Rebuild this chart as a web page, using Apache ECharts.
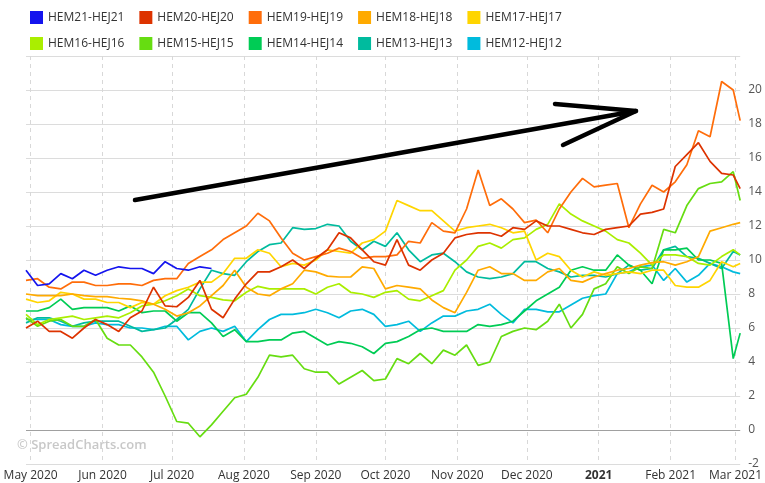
<!DOCTYPE html>
<html>
<head>
<meta charset="utf-8">
<script src="https://cdn.jsdelivr.net/npm/echarts@6/dist/echarts.min.js"></script>
<style>
  html, body { margin: 0; padding: 0; background: #fff; }
  #panel { width: 765px; height: 483px; }
</style>
</head>
<body>
<div id="panel"></div>
<script>
var dates = [
  '2020-04-29','2020-05-04','2020-05-09','2020-05-14','2020-05-19','2020-05-24','2020-05-29',
  '2020-06-03','2020-06-08','2020-06-13','2020-06-18','2020-06-23','2020-06-28',
  '2020-07-03','2020-07-08','2020-07-13','2020-07-18','2020-07-23','2020-07-28',
  '2020-08-02','2020-08-07','2020-08-12','2020-08-17','2020-08-22','2020-08-27',
  '2020-09-01','2020-09-06','2020-09-11','2020-09-16','2020-09-21','2020-09-26',
  '2020-10-01','2020-10-06','2020-10-11','2020-10-16','2020-10-21','2020-10-26','2020-10-31',
  '2020-11-05','2020-11-10','2020-11-15','2020-11-20','2020-11-25','2020-11-30',
  '2020-12-05','2020-12-10','2020-12-15','2020-12-20','2020-12-25','2020-12-30',
  '2021-01-04','2021-01-09','2021-01-14','2021-01-19','2021-01-24','2021-01-29',
  '2021-02-03','2021-02-08','2021-02-13','2021-02-18','2021-02-23','2021-02-28','2021-03-03'
];

var names = ['HEM21-HEJ21','HEM20-HEJ20','HEM19-HEJ19','HEM18-HEJ18','HEM17-HEJ17',
             'HEM16-HEJ16','HEM15-HEJ15','HEM14-HEJ14','HEM13-HEJ13','HEM12-HEJ12'];
var colors = ['#1414ee','#dd3300','#ff6d0a','#ffaa00','#ffd500',
              '#aaee00','#66dd11','#00cc55','#00bb9e','#00bbdd'];

var hem21 = [9.4, 8.5, 8.6, 9.2, 8.9, 9.4, 9.1, 9.4, 9.6, 9.5, 9.5, 9.2, 9.9, 9.5, 9.4, 9.6, 9.5];
var hem20 = [6.0, 6.4, 5.8, 5.8, 5.4, 6.0, 6.5, 6.2, 5.8, 6.6, 7.0, 8.4, 7.3, 7.25, 7.8, 8.8, 7.1, 6.6, 7.7, 8.6, 9.3,
             9.3, 9.6, 10.0, 9.5, 10.1, 10.6, 11.6, 11.3, 10.6, 9.9, 9.7, 11.2, 9.7, 9.4, 10.0, 10.4, 11.3, 11.5, 11.6, 11.6,
             11.4, 11.9, 11.8, 12.3, 12.0, 12.0, 11.8, 11.6, 11.5, 11.8, 11.9, 12.0, 12.7, 12.8, 13.0, 15.5, 16.2, 16.9, 15.8, 15.1, 15.0, 14.2];
var hem19 = [8.8, 8.9, 8.4, 8.3, 8.7, 8.7, 8.5, 8.5, 8.6, 8.6, 8.5, 8.8, 8.9, 8.9, 9.8, 10.2, 10.6, 11.2, 11.6, 12.0, 12.75,
             12.3, 11.3, 10.4, 10.0, 10.2, 10.4, 10.7, 10.5, 10.1, 10.2, 10.2, 10.3, 11.1, 11.0, 12.2, 11.7, 11.6, 13.0, 15.3, 13.2,
             13.6, 13.0, 12.2, 12.35, 11.6, 13.0, 14.0, 14.8, 14.3, 14.4, 14.5, 11.9, 13.3, 14.4, 14.0, 14.6, 15.6, 17.6, 17.25, 20.5, 20.0, 18.2];
var hem18 = [8.0, 7.9, 7.9, 7.9, 8.0, 7.9, 7.85, 7.85, 7.75, 7.7, 7.6, 7.4, 7.1, 6.7, 6.9, 7.3, 7.9, 8.5, 9.4, 8.4, 8.0,
             7.9, 8.3, 8.6, 9.4, 9.3, 9.05, 9.0, 9.0, 9.6, 9.5, 8.3, 8.5, 8.4, 8.3, 7.65, 7.2, 6.9, 8.1, 9.4, 9.6,
             9.2, 9.2, 8.8, 8.8, 9.3, 9.5, 8.8, 8.7, 9.0, 9.2, 9.4, 9.5, 9.7, 9.85, 9.9, 9.7, 9.9, 10.2, 11.7, 11.9, 12.1, 12.2];
var hem17 = [7.7, 7.5, 7.6, 8.1, 8.0, 7.7, 7.7, 7.5, 7.5, 7.2, 7.5, 7.4, 7.9, 8.2, 8.4, 8.7, 8.7, 9.2, 10.1, 10.1, 10.6,
             10.4, 9.6, 9.8, 9.7, 10.0, 10.6, 10.5, 10.4, 11.0, 11.2, 11.7, 13.5, 13.2, 12.9, 12.9, 12.3, 11.7, 11.9, 12.0, 12.1,
             11.9, 11.6, 11.7, 10.0, 10.4, 10.2, 9.4, 9.0, 9.3, 9.1, 9.2, 9.3, 9.2, 9.4, 9.4, 8.5, 8.4, 8.4, 8.8, 9.9, 9.6, 9.8];
var hem16 = [6.8, 6.2, 6.5, 6.6, 6.7, 6.5, 6.6, 6.7, 6.6, 6.9, 7.3, 7.4, 7.6, 7.9, 8.3, 7.9, 7.8, 7.65, 7.6, 8.1, 8.45,
             8.3, 8.3, 8.3, 8.3, 8.0, 8.4, 8.6, 8.1, 8.0, 7.8, 8.1, 8.2, 7.7, 7.6, 7.9, 8.2, 9.4, 10.0, 10.8, 11.0,
             10.7, 11.2, 11.3, 11.8, 12.1, 13.3, 12.7, 12.3, 12.0, 11.7, 11.2, 11.0, 10.4, 9.7, 10.3, 10.3, 10.2, 9.8, 9.7, 10.2, 10.6, 10.3];
var hem15 = [6.6, 6.1, 6.4, 6.5, 6.1, 6.1, 6.5, 5.4, 5.0, 5.0, 4.3, 3.4, 2.0, 0.5, 0.4, -0.4, 0.3, 1.1, 1.9, 2.1, 3.1,
             4.4, 4.3, 4.4, 3.6, 3.4, 3.4, 2.7, 3.1, 3.5, 2.9, 3.0, 4.2, 3.9, 4.5, 3.9, 4.7, 4.4, 5.0, 3.8, 4.0,
             5.5, 5.8, 6.0, 5.9, 6.4, 7.4, 6.0, 6.8, 8.3, 8.6, 9.6, 9.2, 9.6, 9.5, 11.8, 11.6, 13.2, 14.2, 14.5, 14.6, 15.2, 13.5];
var hem14 = [7.0, 7.0, 7.2, 7.7, 7.1, 7.2, 7.2, 7.2, 7.0, 7.3, 6.9, 7.0, 7.0, 6.4, 6.9, 6.9, 6.3, 5.5, 5.9, 5.2, 5.2,
             5.3, 5.3, 5.7, 5.8, 5.4, 5.0, 5.2, 5.1, 4.9, 4.5, 5.1, 5.2, 5.5, 5.9, 6.0, 5.8, 5.8, 5.8, 6.2, 6.1,
             6.2, 6.4, 7.0, 7.6, 8.0, 8.4, 9.4, 9.6, 9.4, 9.4, 10.3, 9.7, 9.4, 8.6, 10.6, 10.6, 10.7, 10.0, 10.0, 9.8, 4.2, 5.7];
var hem13 = [6.3, 6.6, 6.6, 6.4, 6.1, 6.3, 6.4, 6.4, 6.4, 6.1, 5.8, 5.9, 6.0, 6.5, 7.1, 8.3, 9.4, 9.2, 9.1, 9.9, 10.5,
             10.9, 11.0, 11.9, 11.8, 11.85, 12.1, 12.0, 11.1, 10.6, 11.1, 10.8, 11.6, 10.6, 9.9, 10.3, 10.4, 9.9, 9.3, 9.0, 8.9,
             9.0, 9.2, 9.9, 9.9, 9.5, 9.3, 9.0, 9.1, 9.1, 9.0, 9.2, 9.7, 9.4, 9.5, 10.6, 10.8, 10.2, 10.1, 9.8, 9.5, 10.5, 10.3];
var hem12 = [6.5, 6.5, 6.5, 6.2, 6.1, 6.1, 6.3, 6.2, 6.2, 6.0, 6.0, 5.9, 6.1, 6.1, 5.3, 5.8, 6.0, 5.8, 6.1, 5.2, 5.9,
             6.5, 6.8, 6.8, 6.9, 7.1, 6.9, 6.6, 7.0, 7.1, 6.8, 6.1, 6.2, 6.4, 5.8, 6.3, 6.7, 6.7, 7.0, 7.1, 7.4,
             6.8, 6.3, 7.1, 7.1, 6.95, 6.95, 7.35, 7.75, 7.9, 8.0, 9.2, 9.3, 9.6, 9.7, 8.8, 9.5, 8.7, 9.1, 9.8, 9.6, 9.3, 9.2];

var yTicks = [-2, 0, 2, 4, 6, 8, 10, 12, 14, 16, 18, 20];
var monthNames = ['Jan','Feb','Mar','Apr','May','Jun','Jul','Aug','Sep','Oct','Nov','Dec'];

var allValues = [hem21, hem20, hem19, hem18, hem17, hem16, hem15, hem14, hem13, hem12];

function pairs(vals) {
  var out = [];
  for (var i = 0; i < vals.length; i++) out.push([dates[i], vals[i]]);
  return out;
}

var series = allValues.map(function (vals, i) {
  var s = {
    name: names[i],
    type: 'line',
    data: pairs(vals),
    showSymbol: false,
    symbol: 'none',
    lineStyle: { width: 1.7, color: colors[i] },
    itemStyle: { color: colors[i] },
    animation: false,
    z: 20 - i
  };
  if (i === 0) {
    s.markLine = {
      silent: true,
      symbol: 'none',
      label: { show: false },
      lineStyle: { color: '#a0a0a0', type: 'solid', width: 1 },
      data: [{ yAxis: 0 }],
      animation: false
    };
  }
  return s;
});

var legendBase = {
  left: 25,
  itemWidth: 13,
  itemHeight: 13,
  itemGap: 15,
  icon: 'rect',
  textStyle: { fontFamily: 'Open Sans', fontSize: 12, color: '#333', width: 110 },
  selectedMode: false
};

var myChart = echarts.init(document.getElementById('panel'));
myChart.setOption({
  backgroundColor: '#fff',
  textStyle: { fontFamily: 'Open Sans' },
  legend: [
    Object.assign({}, legendBase, { top: 6, data: names.slice(0, 5) }),
    Object.assign({}, legendBase, { top: 32, data: names.slice(5) })
  ],
  grid: { left: 26, right: 19, top: 56, bottom: 19 },
  xAxis: {
    type: 'time',
    min: '2020-04-29',
    max: '2021-03-03',
    splitNumber: 10,
    minInterval: 28 * 86400000,
    maxInterval: 31 * 86400000,
    axisLine: { show: false },
    axisTick: { show: false },
    splitLine: {
      show: true,
      showMinLine: false,
      showMaxLine: false,
      lineStyle: { color: '#d8d8d8', type: [4, 4], width: 1 }
    },
    axisLabel: {
      margin: 6,
      fontSize: 12,
      color: '#333',
      hideOverlap: false,
      showMinLabel: false,
      showMaxLabel: false,
      formatter: function (val) {
        var d = new Date(val);
        if (d.getDate() !== 1) return '';
        if (d.getMonth() === 0) return '{yr|' + d.getFullYear() + '}';
        return monthNames[d.getMonth()] + ' ' + d.getFullYear();
      },
      rich: { yr: { fontWeight: 'bold', fontSize: 12, color: '#333' } }
    }
  },
  yAxis: {
    type: 'value',
    position: 'right',
    min: -2,
    max: 22,
    interval: 2,
    axisLine: { show: false },
    axisTick: { show: false },
    splitLine: { lineStyle: { color: '#dcdcdc', width: 1 } },
    axisLabel: {
      margin: 8,
      fontSize: 12,
      color: '#555',
      formatter: function (v) { return yTicks.indexOf(v) >= 0 ? String(v) : ''; }
    }
  },
  graphic: [
    {
      type: 'text',
      left: 17,
      top: 439,
      silent: true,
      style: { text: '\u00a9 SpreadCharts.com', fill: '#c8c8c8', font: '600 13px "Open Sans"' }
    },
    {
      type: 'polyline',
      silent: true,
      z: 100,
      shape: { points: [[135, 200], [636, 111]] },
      style: { stroke: '#000', lineWidth: 4.5, lineCap: 'round', fill: null }
    },
    {
      type: 'polyline',
      silent: true,
      z: 100,
      shape: { points: [[555, 104], [636, 111], [563, 145]] },
      style: { stroke: '#000', lineWidth: 4.5, lineCap: 'round', lineJoin: 'round', fill: null }
    }
  ],
  series: series
});
</script>
</body>
</html>
